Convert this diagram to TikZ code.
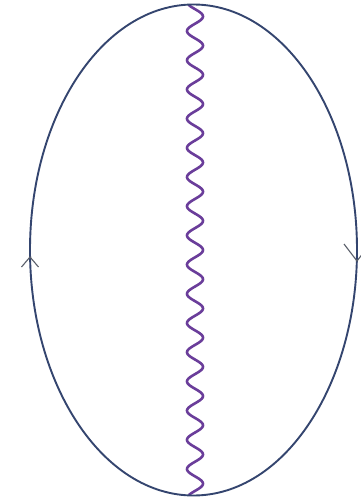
\documentclass[tikz,border=0pt]{standalone}
\definecolor{loopblue}{HTML}{34456F}
\definecolor{wavepurple}{HTML}{6A3D9A}
\definecolor{arrowgray}{HTML}{5A5F6A}
\tikzset{
  loopline/.style={draw=loopblue, line width=1.9pt},
  waveline/.style={draw=wavepurple, line width=2.6pt, line join=round, line cap=round},
  chevron/.style={draw=arrowgray, line width=1.1pt, line join=miter}
}
\begin{document}
\begin{tikzpicture}[x=1pt,y=-1pt]
  \useasboundingbox (0,0) rectangle (360,501);
  \fill[white] (0,0) rectangle (360,501);
  % wavy propagator
  \draw[waveline] plot[domain=0:1, samples=500, smooth]
     ({195 + 8*sin(-51 + 6041*\x)}, {5 + 490*\x});
  % fermion loop
  \coordinate (c) at (193.5,250);
  \draw[loopline] (c) ellipse [x radius=163.5, y radius=245.5];
  % arrows on the loop
  \coordinate (la) at (30,257);
  \draw[chevron] (21.5,267) -- (la) -- (38.5,267);
  \coordinate (ra) at (357,261);
  \draw[chevron] (344,244) -- (ra) -- (370,244);
\end{tikzpicture}
\end{document}
